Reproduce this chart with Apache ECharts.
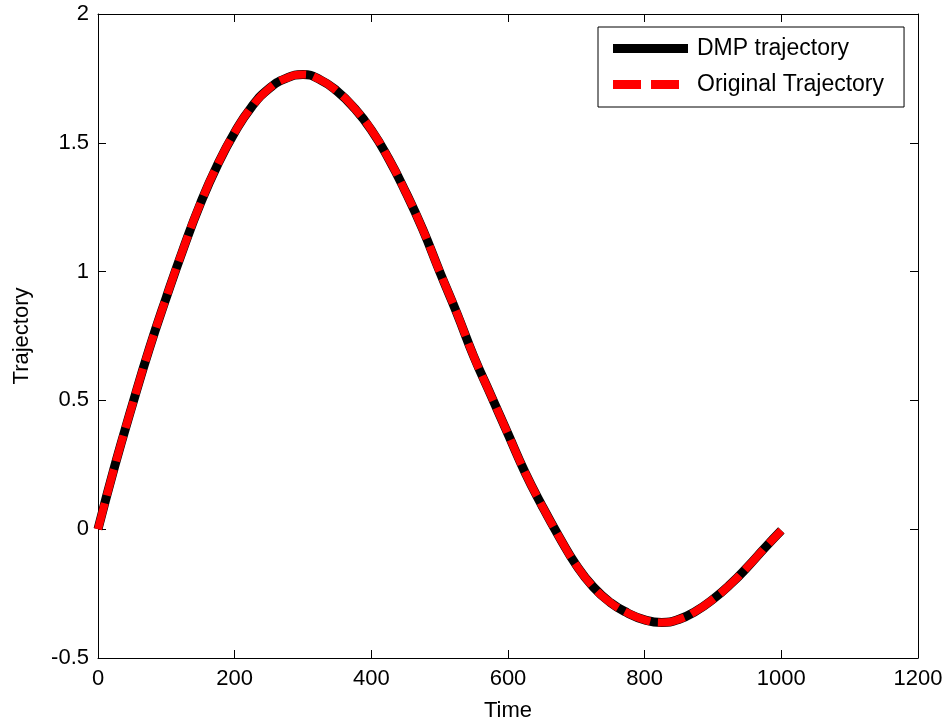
<!DOCTYPE html>
<html>
<head>
<meta charset="utf-8">
<script src="https://cdn.jsdelivr.net/npm/echarts@6/dist/echarts.min.js"></script>
<style>html,body{margin:0;padding:0;background:#fff}#c{width:948px;height:727px}</style>
</head>
<body>
<div id="c"></div>
<script>
var times = [0,25,50,75,100,125,150,175,200,225,250,275,300,325,350,375,400,425,450,475,500,525,550,575,600,625,650,675,700,725,750,775,800,825,850,875,900,925,950,975,1000];
var dmpValues = [0,0.25,0.48,0.70,0.90,1.09,1.265,1.415,1.54,1.64,1.71,1.75,1.765,1.745,1.70,1.635,1.55,1.44,1.31,1.165,1.00,0.84,0.67,0.52,0.37,0.22,0.09,-0.03,-0.14,-0.225,-0.285,-0.325,-0.352,-0.362,-0.35,-0.318,-0.272,-0.215,-0.148,-0.075,-0.005];
var originalValues = [0,0.25,0.48,0.70,0.90,1.09,1.265,1.415,1.54,1.64,1.71,1.75,1.765,1.745,1.70,1.635,1.55,1.44,1.31,1.165,1.00,0.84,0.67,0.52,0.37,0.22,0.09,-0.03,-0.14,-0.225,-0.285,-0.325,-0.352,-0.362,-0.35,-0.318,-0.272,-0.215,-0.148,-0.075,-0.005];
var seriesNames = ['DMP trajectory','Original Trajectory'];
var xTitle = 'Time';
var yTitle = 'Trajectory';

function pairs(xs, ys){ return xs.map(function(x,i){ return [x, ys[i]]; }); }

var font = 'Liberation Sans, Arial, Helvetica, sans-serif';
var chart = echarts.init(document.getElementById('c'), null, {renderer:'canvas'});
var axisLine = {show:true, onZero:false, lineStyle:{color:'#000', width:1}};
var tick = {show:true, inside:true, length:8, lineStyle:{color:'#000', width:1}};
var plain = function(v){ return String(v); };
chart.setOption({
  animation:false,
  backgroundColor:'#fff',
  grid:{left:98, right:30, top:14, bottom:68},
  legend:{
    left:598, top:27,
    orient:'vertical',
    data:[
      {name:seriesNames[0], icon:'rect'},
      {name:seriesNames[1], icon:'path://M0,0h28v9h-28zM38,0h28v9h-28zM75,0L75,9'}
    ],
    itemWidth:75, itemHeight:9, itemGap:13,
    padding:[10,20,11,15],
    borderColor:'#000', borderWidth:1, borderRadius:0,
    backgroundColor:'#fff',
    textStyle:{fontFamily:font, fontSize:23, color:'#000', padding:[0,0,0,4]}
  },
  xAxis:[{
    type:'value', min:0, max:1200, interval:200,
    name:xTitle, nameLocation:'middle', nameGap:42,
    nameTextStyle:{fontFamily:font, fontSize:22, color:'#000'},
    axisLine:axisLine, axisTick:tick, splitLine:{show:false},
    axisLabel:{fontFamily:font, fontSize:22, color:'#000', margin:10, formatter:plain}
  },{
    type:'value', min:0, max:1200, interval:200, position:'top',
    axisLine:axisLine, axisTick:tick, splitLine:{show:false},
    axisLabel:{show:false}
  }],
  yAxis:[{
    type:'value', min:-0.5, max:2, interval:0.5,
    name:yTitle, nameLocation:'middle', nameGap:65,
    nameTextStyle:{fontFamily:font, fontSize:22, color:'#000'},
    axisLine:axisLine, axisTick:tick, splitLine:{show:false},
    axisLabel:{fontFamily:font, fontSize:22, color:'#000', margin:9, formatter:plain}
  },{
    type:'value', min:-0.5, max:2, interval:0.5, position:'right',
    axisLine:axisLine, axisTick:tick, splitLine:{show:false},
    axisLabel:{show:false}
  }],
  series:[{
    name:seriesNames[0], type:'line', smooth:true, symbol:'none',
    data:pairs(times, dmpValues),
    lineStyle:{color:'#000', width:9, cap:'butt'},
    itemStyle:{color:'#000'}
  },{
    name:seriesNames[1], type:'line', smooth:true, symbol:'none',
    data:pairs(times, originalValues),
    lineStyle:{color:'#ff0000', width:8, type:[27,8], cap:'butt'},
    itemStyle:{color:'#ff0000'}
  }]
});
</script>
</body>
</html>
